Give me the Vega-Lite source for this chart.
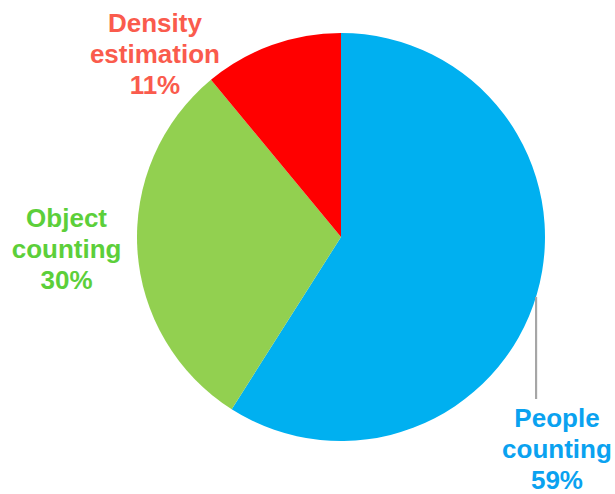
{
  "$schema": "https://vega.github.io/schema/vega-lite/v6.json",
  "autosize": {"type": "none"},
  "width": 546,
  "height": 474,
  "padding": {"left": 68, "top": 0, "right": 1, "bottom": 20},
  "background": "white",
  "config": {"view": {"stroke": null}},
  "data": {
    "values": [
      {"cat": "People counting", "value": 59, "label": ["People", "counting", "59%"]},
      {"cat": "Object counting", "value": 30, "label": ["Object", "counting", "30%"]},
      {"cat": "Density estimation", "value": 11, "label": ["Density", "estimation", "11%"]}
    ]
  },
  "layer": [
    {
      "mark": {"type": "arc", "outerRadius": 204},
      "encoding": {
        "theta": {"field": "value", "type": "quantitative", "stack": true},
        "order": {"field": "value", "type": "quantitative", "sort": "descending"},
        "color": {
          "field": "cat",
          "type": "nominal",
          "scale": {
            "domain": ["People counting", "Object counting", "Density estimation"],
            "range": ["#00B0F0", "#92D050", "#FF0000"]
          },
          "legend": null
        }
      }
    },
    {
      "mark": {"type": "text", "radius": 303, "dx": -75, "dy": 97, "color": "#0AA2F0", "font": "Liberation Sans", "fontSize": 26, "fontWeight": "bold", "lineHeight": 31, "align": "center", "baseline": "middle"},
      "encoding": {
        "theta": {"field": "value", "type": "quantitative", "stack": true},
        "order": {"field": "value", "type": "quantitative", "sort": "descending"},
        "detail": {"field": "cat", "type": "nominal"},
        "text": {"condition": {"test": "datum.cat === 'People counting'", "field": "label"}, "value": ""}
      }
    },
    {
      "mark": {"type": "text", "radius": 274, "dx": -1, "dy": -35, "color": "#5CCF3A", "font": "Liberation Sans", "fontSize": 26, "fontWeight": "bold", "lineHeight": 31, "align": "center", "baseline": "middle"},
      "encoding": {
        "theta": {"field": "value", "type": "quantitative", "stack": true},
        "order": {"field": "value", "type": "quantitative", "sort": "descending"},
        "detail": {"field": "cat", "type": "nominal"},
        "text": {"condition": {"test": "datum.cat === 'Object counting'", "field": "label"}, "value": ""}
      }
    },
    {
      "mark": {"type": "text", "radius": 260, "dx": -98, "dy": 32, "color": "#FA5B4D", "font": "Liberation Sans", "fontSize": 26, "fontWeight": "bold", "lineHeight": 31, "align": "center", "baseline": "middle"},
      "encoding": {
        "theta": {"field": "value", "type": "quantitative", "stack": true},
        "order": {"field": "value", "type": "quantitative", "sort": "descending"},
        "detail": {"field": "cat", "type": "nominal"},
        "text": {"condition": {"test": "datum.cat === 'Density estimation'", "field": "label"}, "value": ""}
      }
    },
    {
      "mark": {"type": "rule", "color": "#A6A6A6", "strokeWidth": 2},
      "encoding": {
        "x": {"datum": 0.956, "type": "quantitative", "scale": {"domain": [-1.338, 1.338]}, "axis": null},
        "y": {"datum": -0.294, "type": "quantitative", "scale": {"domain": [-1.162, 1.162]}, "axis": null},
        "y2": {"datum": -0.794}
      }
    }
  ]
}
